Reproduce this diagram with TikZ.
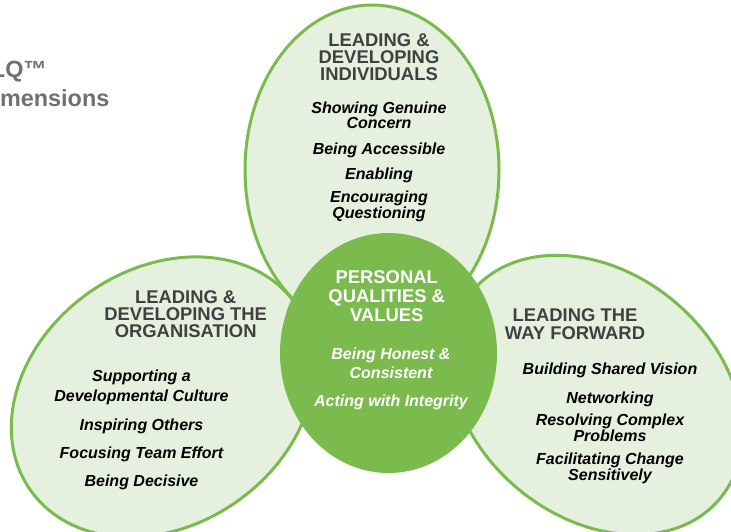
\documentclass[tikz,border=0pt]{standalone}
\usepackage{fontspec}
\setmainfont{Liberation Sans}
\definecolor{leafline}{RGB}{123,187,78}
\definecolor{leaffill}{RGB}{230,240,222}
\definecolor{headgray}{RGB}{64,64,64}
\definecolor{titlegray}{RGB}{112,112,114}
\begin{document}
\begin{tikzpicture}[x=1pt,y=1pt,
  petalfill/.style={fill=leaffill},
  petalline/.style={draw=leafline,line width=3pt},
  % multi-line nodes are placed by the baseline of their last line
  heading/.style={anchor=base,align=center,inner sep=0pt,text=headgray,
    font=\bfseries\fontsize{18.4}{#1}\selectfont},
  heading/.default=17,
  item/.style={anchor=base,align=center,inner sep=0pt,text=black,
    font=\bfseries\itshape\fontsize{16}{#1}\selectfont},
  item/.default=14.4,
  corehead/.style={anchor=base,align=center,inner sep=0pt,text=white,
    font=\bfseries\fontsize{18.4}{19.2}\selectfont},
  coreitem/.style={anchor=base,align=center,inner sep=0pt,text=white,
    font=\bfseries\itshape\fontsize{16}{19}\selectfont},
  titletext/.style={anchor=base west,inner sep=0pt,text=titlegray,
    font=\bfseries\fontsize{23.4}{28}\selectfont}
]
\useasboundingbox (0,0) rectangle (731,-531);
\fill[white] (0,0) rectangle (731,-531);
\clip (0,0) rectangle (731,-531);

% title
\node[titletext] (title1) at (-23.5,-77.3) {TLQ™};
\node[titletext] (title2) at (-23.5,-106.7) {Dimensions};

% petal fills
\path[petalfill] (372,-170) ellipse [x radius=127,y radius=165];
\begin{scope}[shift={(163,-397)},rotate=35]
  \path[petalfill] (0,0) ellipse [x radius=162,y radius=128];
\end{scope}
\begin{scope}[shift={(596,-395)},rotate=-40]
  \path[petalfill] (0,0) ellipse [x radius=161.5,y radius=122];
\end{scope}

% petal outlines
\path[petalline] (372,-170) ellipse [x radius=127,y radius=165];
\begin{scope}[shift={(163,-397)},rotate=35]
  \path[petalline] (0,0) ellipse [x radius=162,y radius=128];
\end{scope}
\begin{scope}[shift={(596,-395)},rotate=-40]
  \path[petalline] (0,0) ellipse [x radius=161.5,y radius=122];
\end{scope}

% core
\fill[leafline] (388.5,-353) ellipse [x radius=108.5,y radius=120];

% top petal
\node[heading] (indhead) at (379,-80.5) {LEADING \&\\DEVELOPING\\INDIVIDUALS};
\node[item] (ind1) at (379,-128.7) {Showing Genuine\\Concern};
\node[item] (ind2) at (379,-154) {Being Accessible};
\node[item] (ind3) at (379,-179) {Enabling};
\node[item] (ind4) at (379,-218.3) {Encouraging\\Questioning};

% left petal
\node[heading=16.7] (orghead) at (185.7,-337.3) {LEADING \&\\DEVELOPING THE\\ORGANISATION};
\node[item=20] (org1) at (141.5,-401.7) {Supporting a\\Developmental Culture};
\node[item] (org2) at (141.5,-430) {Inspiring Others};
\node[item] (org3) at (141.5,-458.3) {Focusing Team Effort};
\node[item] (org4) at (141.5,-486.7) {Being Decisive};

% right petal
\node[heading=18.3] (wayhead) at (575,-339.3) {LEADING THE\\WAY FORWARD};
\node[item] (way1) at (610,-374) {Building Shared Vision};
\node[item] (way2) at (610,-403.3) {Networking};
\node[item=13.4] (way3) at (610,-441.7) {Resolving Complex\\Problems};
\node[item=14] (way4) at (610,-480.7) {Facilitating Change\\Sensitively};

% core text
\node[corehead] (corehead) at (386.7,-321.7) {PERSONAL\\QUALITIES \&\\VALUES};
\node[coreitem] (core1) at (391,-378) {Being Honest \&\\Consistent};
\node[coreitem] (core2) at (391,-406.7) {Acting with Integrity};
\end{tikzpicture}
\end{document}
